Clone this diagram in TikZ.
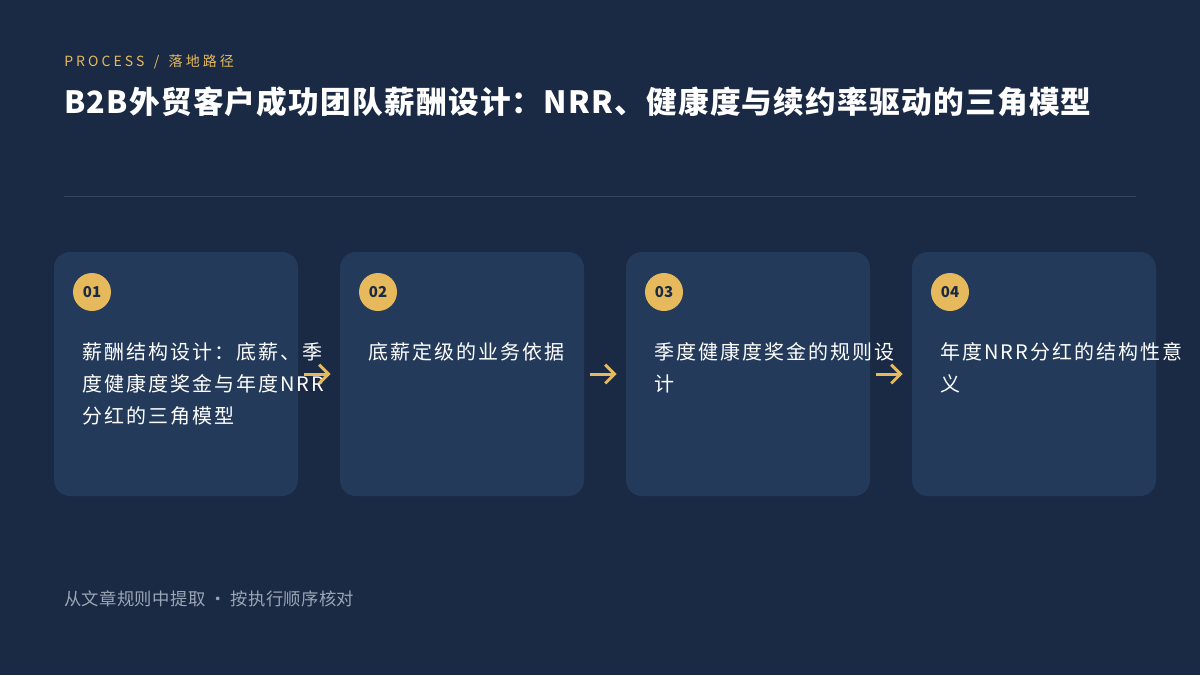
\documentclass[tikz,border=0pt]{standalone}
\usepackage{fontspec}
\setmainfont{Noto Sans CJK SC}
\usetikzlibrary{arrows.meta}
\definecolor{bgnavy}{HTML}{1B2A44}
\definecolor{cardnavy}{HTML}{233A5A}
\definecolor{rulegray}{HTML}{33455F}
\definecolor{gold}{HTML}{E5B95C}
\definecolor{footgray}{HTML}{9AA5B5}

\begin{document}
\begin{tikzpicture}[x=0.75pt,y=-0.75pt,
    card/.style={fill=cardnavy,rounded corners=12pt,minimum width=183pt,minimum height=183pt,inner sep=0pt},
    badge/.style={circle,fill=gold,minimum size=28.5pt,inner sep=0pt,text=bgnavy,font=\fontsize{11.25}{13}\selectfont\bfseries},
    steptext/.style={anchor=north west,inner sep=0pt,align=left,text=white,font=\fontsize{15}{24}\selectfont\addfontfeatures{LetterSpace=10}},
    flow/.style={-{Straight Barb[length=7pt,width=14pt]},draw=gold,line width=2.25pt,shorten <=4.5pt,shorten >=6.75pt}]
        \fill[bgnavy](0,0)rectangle(1200,675);
        \useasboundingbox(0,0)rectangle(1200,675);
        \node[anchor=base west,inner sep=0pt,text=gold,font=\fontsize{10.5}{12}\selectfont\addfontfeatures{LetterSpace=22}](kicker)at(64,66){PROCESS\hspace{7pt}/\hspace{7pt}落地路径};
        \node[anchor=base west,inner sep=0pt,text=white,font=\fontsize{23}{26}\selectfont\bfseries\addfontfeatures{LetterSpace=4}](title)at(64,113){B2B外贸客户成功团队薪酬设计：NRR、健康度与续约率驱动的三角模型};
        \draw[rulegray,line width=0.75pt](64,196)--(1136,196);
        \node[card](card1)at(176,374){};
        \node[card](card2)at(462,374){};
        \node[card](card3)at(748,374){};
        \node[card](card4)at(1034,374){};
        \node[badge](num1)at(92,292){01};
        \node[badge](num2)at(378,292){02};
        \node[badge](num3)at(664,292){03};
        \node[badge](num4)at(950,292){04};
        \node[steptext](txt1)at(82,342){薪酬结构设计：底薪、季\\度健康度奖金与年度NRR\\分红的三角模型};
        \node[steptext](txt2)at(368,342){底薪定级的业务依据};
        \node[steptext](txt3)at(654,342){季度健康度奖金的规则设\\计};
        \node[steptext](txt4)at(940,342){年度NRR分红的结构性意\\义};
        \draw[flow](card1.east)--(card2.west);
        \draw[flow](card2.east)--(card3.west);
        \draw[flow](card3.east)--(card4.west);
        \node[anchor=base west,inner sep=0pt,text=footgray,font=\fontsize{13}{15}\selectfont\addfontfeatures{LetterSpace=2}](source)at(64,605){从文章规则中提取\hspace{3pt}·\hspace{3pt}按执行顺序核对};
    \end{tikzpicture}
\end{document}
